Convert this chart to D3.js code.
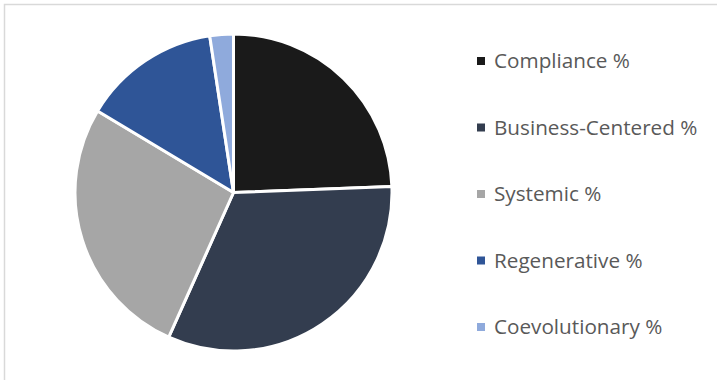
<!DOCTYPE html>
<html>
<head>
<meta charset="utf-8">
<script src="https://cdn.jsdelivr.net/npm/d3@7"></script>
<style>
  body { margin: 0; background: #fff; }
  svg { display: block; }
</style>
</head>
<body>
<svg id="chart" width="717" height="380"></svg>
<script>
const categories = ["Compliance %", "Business-Centered %", "Systemic %", "Regenerative %", "Coevolutionary %"];
const values = [24.4, 32.3, 26.9, 14.0, 2.4];
const colors = ["#1a1a1a", "#333d4f", "#a6a6a6", "#2f5597", "#8faadc"];

const svg = d3.select("#chart");

// chart area border (only top/left visible in frame)
svg.append("rect")
  .attr("x", 4.5).attr("y", 4.5)
  .attr("width", 900).attr("height", 900)
  .attr("fill", "none")
  .attr("stroke", "#d9d9d9")
  .attr("stroke-width", 1.5);

const cx = 233.5, cy = 192.5, r = 158.5;

const pie = d3.pie().sort(null).value(d => d.value);
const arc = d3.arc().innerRadius(0).outerRadius(r);

const data = categories.map((c, i) => ({ name: c, value: values[i], color: colors[i] }));

const g = svg.append("g").attr("transform", `translate(${cx},${cy})`);
g.selectAll("path")
  .data(pie(data))
  .enter().append("path")
  .attr("d", arc)
  .attr("fill", d => d.data.color)
  .attr("stroke", "#fff")
  .attr("stroke-width", 3)
  .attr("stroke-linejoin", "round");

// legend
const legendY = d3.scalePoint().domain(categories).range([61, 327]);
const lg = svg.append("g");
const items = lg.selectAll("g")
  .data(data)
  .enter().append("g")
  .attr("transform", d => `translate(477,${legendY(d.name)})`);

items.append("rect")
  .attr("x", 0).attr("y", -4)
  .attr("width", 8).attr("height", 8)
  .attr("fill", d => d.color);

items.append("text")
  .attr("x", 17)
  .attr("dy", "0.35em")
  .attr("font-family", "'Open Sans', sans-serif")
  .attr("font-size", 20.7)
  .attr("fill", "#595959")
  .text(d => d.name);
</script>
</body>
</html>
